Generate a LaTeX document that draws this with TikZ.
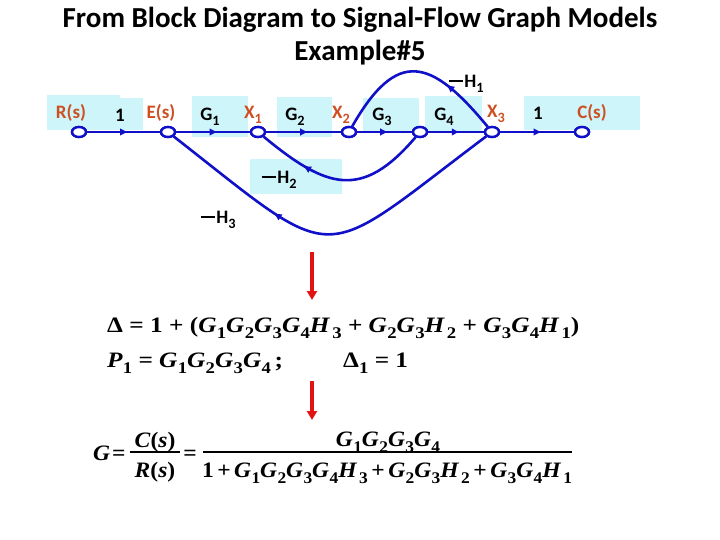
\documentclass[tikz,border=0pt]{standalone}
\usepackage{fontspec}
\usepackage{graphicx}
\setmainfont{Carlito}
\newfontfamily\eqf[FakeStretch=1.15]{Liberation Serif}
\newfontfamily\eqn[FakeStretch=1.07]{Liberation Serif}
\usetikzlibrary{decorations.markings,arrows.meta,shapes.geometric}
\definecolor{sfblue}{RGB}{16,16,200}
\definecolor{sfred}{RGB}{205,80,35}
\definecolor{sfcyan}{RGB}{206,245,250}
\definecolor{arrred}{RGB}{225,20,20}
\newcommand\lsub[1]{\raisebox{-0.28em}{\scalebox{0.75}{#1}}}
\newcommand\esub[1]{\raisebox{-0.3em}{\scalebox{0.74}{#1}}}
\newcommand\Gv[1]{\textit{G}\kern0.3pt\esub{#1}}
\newcommand\Hv[1]{\textit{H}\kern2pt\esub{#1}}
\newcommand\mH[1]{\rule[0.3em]{0.75em}{2.2pt}\kern1.5pt H\lsub{#1}}
\newcommand\tp{\kern3.5pt+\kern3.5pt}
\begin{document}
\begin{tikzpicture}[x=1pt,y=-1pt,
  sfnode/.style={ellipse,draw=sfblue,fill=white,line width=2.4pt,minimum width=14pt,minimum height=10pt,inner sep=0pt},
  cbox/.style={fill=sfcyan,draw=none},
  lbl/.style={font=\bfseries\fontsize{19}{21}\selectfont,inner sep=0pt},
  rlbl/.style={lbl,text=sfred},
  branch/.style={draw=sfblue,line width=2.6pt},
  midarrow/.style={postaction={decorate},decoration={markings,mark=at position #1 with {\arrow{Triangle[length=7pt,width=6.5pt]}}}},
  midarrow/.default=0.55,
  eq/.style={font=\eqf\bfseries\fontsize{22}{26}\selectfont,inner sep=0pt},
  fq/.style={font=\eqn\bfseries\fontsize{22}{26}\selectfont,inner sep=0pt},
  redarrow/.style={draw=arrred,line width=3.5pt,-{Triangle[length=9pt,width=10pt]}},
  title/.style={font=\bfseries\fontsize{29}{33}\selectfont,inner sep=0pt}
]
\useasboundingbox (0,0) rectangle (720,540);
% title
\node[title] (t1) at (360,20) {From Block Diagram to Signal-Flow Graph Models};
\node[title] (t2) at (360,53) {Example\#5};
% light boxes
\fill[cbox] (47,95) rectangle (120,130);
\fill[cbox] (120,98) rectangle (143,130);
\fill[cbox] (192,96) rectangle (248,137);
\fill[cbox] (277,97) rectangle (332,137);
\fill[cbox] (363,98) rectangle (419,132);
\fill[cbox] (425,96) rectangle (482,132);
\fill[cbox] (524,96) rectangle (640,130);
\fill[cbox] (250,159) rectangle (342,194);
% nodes
\node[sfnode] (R) at (79,132) {};
\node[sfnode] (E) at (168,132) {};
\node[sfnode] (X1) at (258,132) {};
\node[sfnode] (X2) at (349,132) {};
\node[sfnode] (N3) at (420,132) {};
\node[sfnode] (X3) at (492,132) {};
\node[sfnode] (C) at (582,132) {};
% forward branches
\draw[branch,midarrow] (R) -- (E);
\draw[branch,midarrow] (E) -- (X1);
\draw[branch,midarrow] (X1) -- (X2);
\draw[branch,midarrow] (X2) -- (N3);
\draw[branch,midarrow] (N3) -- (X3);
\draw[branch,midarrow] (X3) -- (C);
% feedback branches
\draw[branch,midarrow=0.32] (X3) .. controls (431,58) and (397,48) .. (X2);
\draw[branch,midarrow=0.72] (N3) .. controls (362,200) and (327,189) .. (X1);
\draw[branch,midarrow=0.66] (X3) .. controls (315,265) and (343,269) .. (E);
% redraw nodes on top
\foreach \n in {R,E,X1,X2,N3,X3,C} \node[sfnode] at (\n) {};
% labels
\node[rlbl] (Rl) at (71,113) {R(s)};
\node[lbl] (o1) at (120,115) {1};
\node[rlbl] (El) at (161,113) {E(s)};
\node[lbl] (G1l) at (210,117) {G\lsub{1}};
\node[rlbl] (X1l) at (253,115) {X\lsub{1}};
\node[lbl] (G2l) at (295,117) {G\lsub{2}};
\node[rlbl] (X2l) at (341,115) {X\lsub{2}};
\node[lbl] (G3l) at (382,117) {G\lsub{3}};
\node[lbl] (G4l) at (444,117) {G\lsub{4}};
\node[rlbl] (X3l) at (496,114) {X\lsub{3}};
\node[lbl] (o2) at (538,113) {1};
\node[rlbl] (Cl) at (592,113) {C(s)};
\node[lbl] (H1l) at (466,84) {\mH{1}};
\node[lbl] (H2l) at (279,180) {\mH{2}};
\node[lbl] (H3l) at (218,220) {\mH{3}};
% red arrows
\coordinate (a1s) at (312,252);
\coordinate (a1e) at (312,300);
\coordinate (a2s) at (312,381);
\coordinate (a2e) at (312,420);
\draw[redarrow] (a1s) -- (a1e);
\draw[redarrow] (a2s) -- (a2e);
% equations
\node[eq,anchor=base west] (L1) at (107,332) {\char"0394\ = 1 + (\Gv{1}\Gv{2}\Gv{3}\Gv{4}\Hv{3} + \Gv{2}\Gv{3}\Hv{2} + \Gv{3}\Gv{4}\Hv{1})};
\node[eq,anchor=base west] (L2) at (107,367) {\textit{P}\esub{1} = \Gv{1}\Gv{2}\Gv{3}\Gv{4}\,;};
\node[eq,anchor=base west] (L3) at (343,367) {\char"0394\esub{1} = 1};
\node[fq,anchor=base west] (Gq) at (93,460) {\textit{G}\kern2pt=};
\node[fq,anchor=base] (Cs) at (155,447) {\textit{C}(\textit{s})};
\node[fq,anchor=base] (Rs) at (155,477) {\textit{R}(\textit{s})};
\coordinate (b1l) at (130,452);
\coordinate (b1r) at (180,452);
\draw[line width=1.6pt] (b1l) -- (b1r);
\node[fq,anchor=base] (eq2) at (190,460) {=};
\coordinate (b2l) at (203,452);
\coordinate (b2r) at (572,452);
\draw[line width=1.6pt] (b2l) -- (b2r);
\node[fq,anchor=base] (Num) at (388,446) {\Gv{1}\Gv{2}\Gv{3}\Gv{4}};
\node[fq,anchor=base] (Den) at (387,477) {1\tp\Gv{1}\Gv{2}\Gv{3}\Gv{4}\Hv{3}\tp\Gv{2}\Gv{3}\Hv{2}\tp\Gv{3}\Gv{4}\Hv{1}};
\end{tikzpicture}
\end{document}
